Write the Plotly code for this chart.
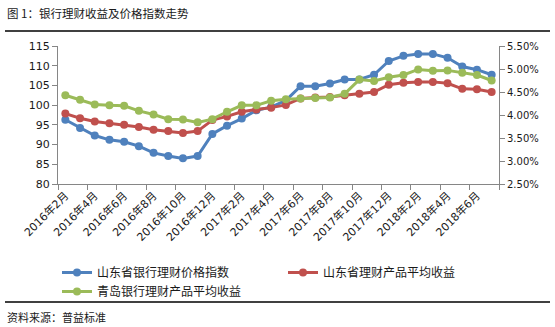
import plotly.graph_objects as go

months = [f"{y}年{m}月" for y, m in
          [(2016, m) for m in range(2, 13)] + [(2017, m) for m in range(1, 13)] + [(2018, m) for m in range(1, 8)]]

# 山东省银行理财价格指数 (left axis)
sd_index = [96.3, 94.2, 92.3, 91.2, 90.7, 89.6, 87.9, 87.1, 86.5, 87.1,
            92.7, 94.8, 96.6, 98.7, 99.5, 101.2, 104.8, 104.8, 105.5, 106.5,
            106.5, 107.7, 111.2, 112.5, 113.0, 113.0, 112.0, 109.8, 109.0, 107.7]
# 山东省理财产品平均收益 (%, right axis)
sd_yield = [4.03, 3.93, 3.86, 3.82, 3.79, 3.74, 3.68, 3.65, 3.61, 3.65,
            3.89, 3.97, 4.07, 4.12, 4.16, 4.22, 4.36, 4.38, 4.39, 4.43,
            4.46, 4.50, 4.66, 4.70, 4.72, 4.72, 4.69, 4.57, 4.56, 4.50]
# 青岛银行理财产品平均收益 (%, right axis)
qd_yield = [4.43, 4.33, 4.23, 4.21, 4.20, 4.09, 4.01, 3.91, 3.90, 3.84,
            3.91, 4.07, 4.21, 4.21, 4.31, 4.34, 4.36, 4.37, 4.38, 4.46,
            4.77, 4.74, 4.82, 4.87, 4.99, 4.96, 4.97, 4.92, 4.87, 4.75]

names = ["山东省银行理财价格指数", "山东省理财产品平均收益", "青岛银行理财产品平均收益"]
colors = ["#4F81BD", "#C0504D", "#9BBB59"]

W, H = 555, 327
L, R, T, B = 58, 56, 46, 143
pw, ph = W - L - R, H - T - B

def px2x(x):
    return (x - L) / pw

def px2y(y):
    return (H - B - y) / ph

fig = go.Figure()
fig.add_trace(go.Scatter(x=months, y=sd_index, name=names[0], mode="lines+markers",
                         line=dict(color=colors[0], width=3), marker=dict(size=8, color=colors[0]),
                         yaxis="y"))
fig.add_trace(go.Scatter(x=months, y=sd_yield, name=names[1], mode="lines+markers",
                         line=dict(color=colors[1], width=3), marker=dict(size=8, color=colors[1]),
                         yaxis="y2"))
fig.add_trace(go.Scatter(x=months, y=qd_yield, name=names[2], mode="lines+markers",
                         line=dict(color=colors[2], width=3), marker=dict(size=8, color=colors[2]),
                         yaxis="y2"))

axis_col = "#868686"
font_num = "DejaVu Sans, Noto Sans CJK SC"
fig.update_layout(
    width=W, height=H,
    margin=dict(l=L, r=R, t=T, b=B, pad=0),
    paper_bgcolor="white", plot_bgcolor="white",
    showlegend=True,
    font=dict(family="Noto Sans CJK SC", size=11, color="#1a1a1a"),
    xaxis=dict(type="category", range=[-0.5, 29.5], dtick=2, tickson="boundaries",
               tickangle=-45, ticks="outside", ticklen=5, tickcolor=axis_col,
               showline=True, linecolor=axis_col, linewidth=1, showgrid=False,
               tickfont=dict(family=font_num, size=11, color="#1a1a1a"), zeroline=False),
    yaxis=dict(range=[80, 115], dtick=5, ticks="outside", ticklen=5, tickcolor=axis_col,
               showline=True, linecolor=axis_col, linewidth=1, showgrid=False, zeroline=False,
               tickfont=dict(family=font_num, size=11, color="#1a1a1a")),
    yaxis2=dict(range=[2.5, 5.5], dtick=0.5, tickformat=".2f", ticksuffix="%",
                overlaying="y", side="right", ticks="outside", ticklen=5, tickcolor=axis_col,
                showline=True, linecolor=axis_col, linewidth=1, showgrid=False, zeroline=False,
                tickfont=dict(family=font_num, size=10, color="#1a1a1a")),
    legend=dict(orientation="h", x=px2x(57), y=px2y(258), xanchor="left", yanchor="top",
                entrywidth=181, entrywidthmode="pixels", itemwidth=30, traceorder="normal",
                tracegroupgap=0,
                font=dict(family="Noto Sans CJK SC", size=12, color="#1a1a1a"),
                bgcolor="rgba(0,0,0,0)"),
)

fig.add_shape(type="line", xref="paper", yref="paper", x0=px2x(5), x1=px2x(550),
              y0=px2y(31), y1=px2y(31), line=dict(color="black", width=1.5))
fig.add_shape(type="line", xref="paper", yref="paper", x0=px2x(5), x1=px2x(550),
              y0=px2y(302), y1=px2y(302), line=dict(color="black", width=1.5))

fig.add_annotation(text="图 1：银行理财收益及价格指数走势", xref="paper", yref="paper",
                   x=px2x(5), y=px2y(13), xanchor="left", yanchor="middle", showarrow=False,
                   font=dict(family="Noto Sans CJK SC", size=11.5, color="#1a1a1a"))
fig.add_annotation(text="资料来源：普益标准", xref="paper", yref="paper",
                   x=px2x(5), y=px2y(317), xanchor="left", yanchor="middle", showarrow=False,
                   font=dict(family="Noto Sans CJK SC", size=11, color="#1a1a1a"))

fig.write_html("out.html")
